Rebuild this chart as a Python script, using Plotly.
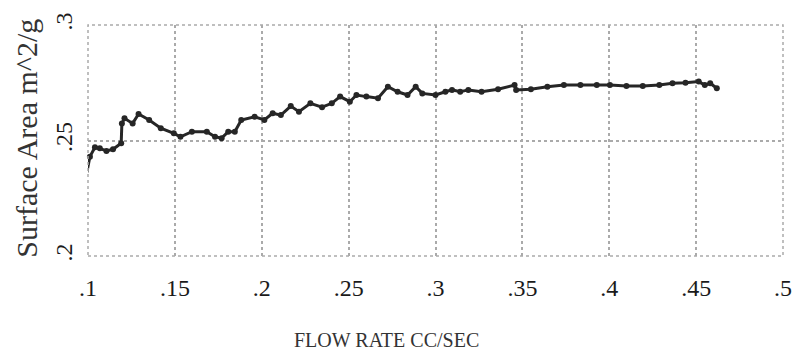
import plotly.graph_objects as go

flow_rate = [0.0993, 0.1011, 0.1040, 0.1068, 0.1106, 0.1144, 0.1191, 0.1195, 0.1210, 0.1257,
             0.1291, 0.1352, 0.1419, 0.1494, 0.1532, 0.1598, 0.1684, 0.1731, 0.1769, 0.1807,
             0.1845, 0.1882, 0.1959, 0.2015, 0.2063, 0.2110, 0.2167, 0.2214, 0.2280, 0.2347,
             0.2403, 0.2451, 0.2507, 0.2545, 0.2602, 0.2669, 0.2726, 0.2782, 0.2839, 0.2886,
             0.2924, 0.3000, 0.3057, 0.3095, 0.3142, 0.3189, 0.3265, 0.3360, 0.3455, 0.3464,
             0.3549, 0.3644, 0.3739, 0.3834, 0.3928, 0.4004, 0.4099, 0.4193, 0.4288, 0.4364,
             0.4439, 0.4515, 0.4550, 0.4581, 0.4619]
surface_area = [0.2361, 0.2430, 0.2471, 0.2466, 0.2455, 0.2462, 0.2488, 0.2574, 0.2596, 0.2574,
                0.2615, 0.2589, 0.2553, 0.2531, 0.2516, 0.2538, 0.2538, 0.2516, 0.2510, 0.2538,
                0.2538, 0.2589, 0.2603, 0.2589, 0.2618, 0.2610, 0.2649, 0.2625, 0.2661, 0.2644,
                0.2661, 0.2690, 0.2668, 0.2697, 0.2690, 0.2683, 0.2733, 0.2711, 0.2697, 0.2733,
                0.2704, 0.2697, 0.2711, 0.2719, 0.2711, 0.2719, 0.2711, 0.2722, 0.2740, 0.2719,
                0.2722, 0.2733, 0.2740, 0.2740, 0.2740, 0.2740, 0.2736, 0.2736, 0.2740, 0.2748,
                0.2750, 0.2755, 0.2740, 0.2748, 0.2726]

x_ticks = [0.1, 0.15, 0.2, 0.25, 0.3, 0.35, 0.4, 0.45, 0.5]
x_tick_text = [".1", ".15", ".2", ".25", ".3", ".35", ".4", ".45", ".5"]
y_ticks = [0.2, 0.25, 0.3]
y_tick_text = [".2", ".25", ".3"]

serif = "Liberation Serif, Times New Roman, serif"

fig = go.Figure()
fig.add_trace(go.Scatter(
    x=flow_rate, y=surface_area, mode="lines+markers",
    line=dict(color="#262626", width=3),
    marker=dict(color="#262626", size=6),
    cliponaxis=False,
    showlegend=False,
))

fig.update_layout(
    width=802, height=353,
    margin=dict(l=88, r=10, t=25, b=97),
    paper_bgcolor="white", plot_bgcolor="white",
    font=dict(family=serif, color="#1a1a1a"),
    xaxis=dict(range=[0.1, 0.5], tickvals=x_ticks, ticktext=x_tick_text,
               showgrid=True, gridcolor="#aaaaaa", griddash="dot", gridwidth=1.5,
               zeroline=False, showline=False,
               ticks="outside", ticklen=10, tickcolor="rgba(0,0,0,0)",
               tickfont=dict(family=serif, size=24, color="#1a1a1a")),
    yaxis=dict(range=[0.2, 0.3], tickvals=y_ticks, ticktext=y_tick_text,
               showgrid=True, gridcolor="#aaaaaa", griddash="dot", gridwidth=1.5,
               zeroline=False, showline=False, tickangle=-90,
               ticks="outside", ticklen=5, tickcolor="rgba(0,0,0,0)",
               tickfont=dict(family=serif, size=24, color="#1a1a1a")),
    shapes=[dict(type="rect", xref="paper", yref="paper", x0=0, x1=1, y0=0, y1=1,
                 line=dict(color="#aaaaaa", width=1.5, dash="dot"))],
    annotations=[
        dict(text="Surface Area m^2/g", xref="paper", yref="paper",
             x=(26 - 88) / 704, y=0.511, textangle=-90, showarrow=False,
             xanchor="center", yanchor="middle",
             font=dict(family=serif, size=30, color="#333333")),
        dict(text="FLOW RATE CC/SEC", xref="paper", yref="paper",
             x=(390 - 88) / 704, y=-(340 - 256) / 231, showarrow=False,
             xanchor="center", yanchor="middle",
             font=dict(family=serif, size=20, color="#333333")),
    ],
)

fig.write_html("out.html")
